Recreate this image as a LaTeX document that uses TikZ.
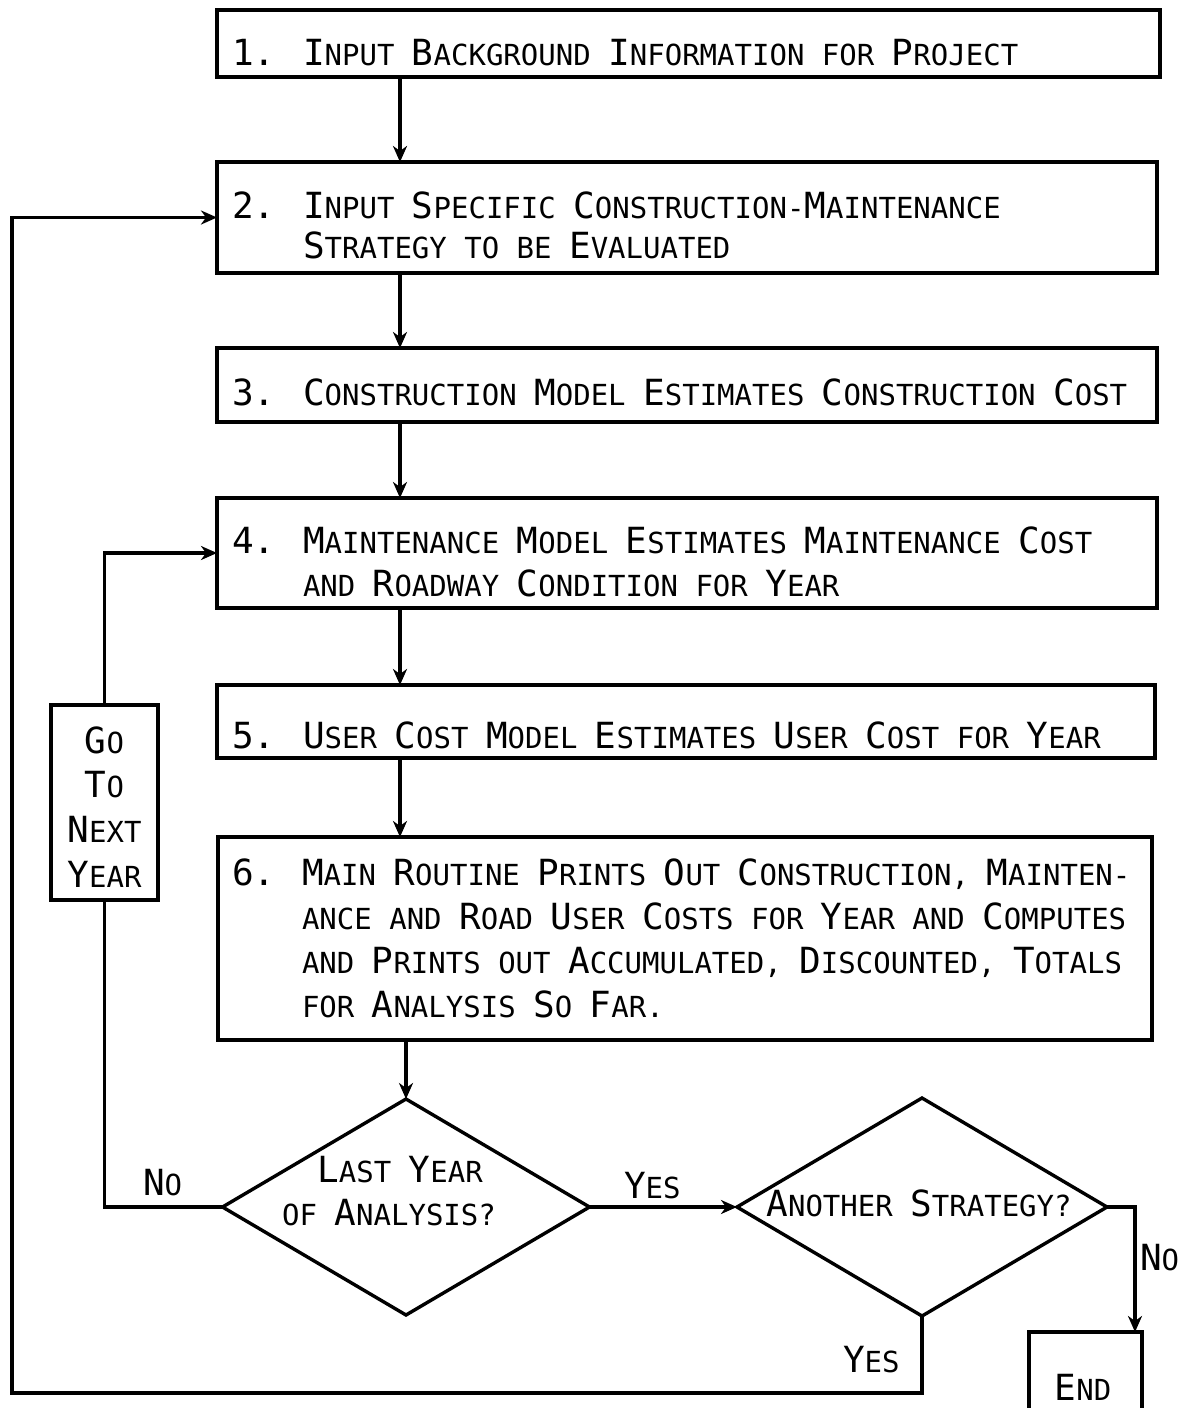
\documentclass[tikz,border=0pt]{standalone}
\usepackage{fontspec}
\newfontfamily\lettering{DejaVu Sans Mono}
\usetikzlibrary{arrows.meta,shapes.geometric}
\newcommand\Cap[1]{{\fontsize{36}{36}\selectfont #1}}
\begin{document}
\begin{tikzpicture}[x=1pt,y=-1pt,line width=3.4pt,
  font=\lettering\fontsize{29}{29}\selectfont,
  box/.style={draw,line width=3.4pt,inner sep=0pt,outer sep=0pt,anchor=north west,fill=white},
  txt/.style={anchor=base west,inner sep=0pt,outer sep=0pt},
  ctxt/.style={anchor=base,inner sep=0pt,outer sep=0pt},
  arr/.style={-{Stealth[length=16pt,width=14pt,inset=5pt]}},
  dia/.style={draw,diamond,line width=3.4pt,inner sep=0pt,outer sep=0pt}]
\useasboundingbox (0,0) rectangle (1181,1408);
\clip (0,0) rectangle (1181,1408);
% axis for vertical arrows
\coordinate (ax) at (400,0);
\coordinate (nx) at (1135,0);
% boxes
\node[box,minimum width=943pt,minimum height=67pt] (b1) at (217,10) {};
\node[box,minimum width=940pt,minimum height=111pt] (b2) at (217,162) {};
\node[box,minimum width=940pt,minimum height=74pt] (b3) at (217,348) {};
\node[box,minimum width=940pt,minimum height=110pt] (b4) at (217,498) {};
\node[box,minimum width=938pt,minimum height=73pt] (b5) at (217,685) {};
\node[box,minimum width=934pt,minimum height=203pt] (b6) at (218,837) {};
\node[box,minimum width=113pt,minimum height=110pt] (endbox) at (1029,1332) {};
% diamonds
\node[dia,minimum width=367pt,minimum height=216pt] (d1) at (406,1207) {};
\node[dia,minimum width=370pt,minimum height=218pt] (d2) at (922,1207) {};
% box texts
\node[txt] (n1) at (232,65) {\Cap{1.}};
\node[txt] (t1) at (303,65) {\Cap{I}NPUT \Cap{B}ACKGROUND \Cap{I}NFORMATION FOR \Cap{P}ROJECT};
\node[txt] (n2) at (232,218) {\Cap{2.}};
\node[txt] (t2a) at (303,218) {\Cap{I}NPUT \Cap{S}PECIFIC \Cap{C}ONSTRUCTION-\Cap{M}AINTENANCE};
\node[txt] (t2b) at (303,258) {\Cap{S}TRATEGY TO BE \Cap{E}VALUATED};
\node[txt] (n3) at (232,405) {\Cap{3.}};
\node[txt] (t3) at (303,405) {\Cap{C}ONSTRUCTION \Cap{M}ODEL \Cap{E}STIMATES \Cap{C}ONSTRUCTION \Cap{C}OST};
\node[txt] (n4) at (232,553) {\Cap{4.}};
\node[txt] (t4a) at (303,553) {\Cap{M}AINTENANCE \Cap{M}ODEL \Cap{E}STIMATES \Cap{M}AINTENANCE \Cap{C}OST};
\node[txt] (t4b) at (303,596) {AND \Cap{R}OADWAY \Cap{C}ONDITION FOR \Cap{Y}EAR};
\node[txt] (n5) at (232,748) {\Cap{5.}};
\node[txt] (t5) at (303,748) {\Cap{U}SER \Cap{C}OST \Cap{M}ODEL \Cap{E}STIMATES \Cap{U}SER \Cap{C}OST FOR \Cap{Y}EAR};
\node[txt] (n6) at (232,885) {\Cap{6.}};
\node[txt] (t6a) at (302,885) {\Cap{M}AIN \Cap{R}OUTINE \Cap{P}RINTS \Cap{O}UT \Cap{C}ONSTRUCTION, \Cap{M}AINTEN-};
\node[txt] (t6b) at (302,929) {ANCE AND \Cap{R}OAD \Cap{U}SER \Cap{C}OSTS FOR \Cap{Y}EAR AND \Cap{C}OMPUTES};
\node[txt] (t6c) at (302,973) {AND \Cap{P}RINTS OUT \Cap{A}CCUMULATED, \Cap{D}ISCOUNTED, \Cap{T}OTALS};
\node[txt] (t6d) at (302,1017) {FOR \Cap{A}NALYSIS \Cap{S}O \Cap{F}AR.};
% diamond texts
\node[ctxt] (d1a) at (400,1182) {\Cap{L}AST \Cap{Y}EAR};
\node[ctxt] (d1b) at (389,1225) {OF \Cap{A}NALYSIS?};
\node[ctxt] (d2a) at (919,1216) {\Cap{A}NOTHER \Cap{S}TRATEGY?};
% vertical arrows
\draw[arr] (b1.south -| ax) -- (b2.north -| ax);
\draw[arr] (b2.south -| ax) -- (b3.north -| ax);
\draw[arr] (b3.south -| ax) -- (b4.north -| ax);
\draw[arr] (b4.south -| ax) -- (b5.north -| ax);
\draw[arr] (b5.south -| ax) -- (b6.north -| ax);
\draw[arr] (b6.south -| d1.north) -- (d1.north);
% yes to another strategy
\draw[arr] (d1.east) -- (d2.west);
\node[txt] (lyes1) at (624,1198) {\Cap{Y}ES};
% no -> end
\draw[arr] (d2.east) -- (d2.east -| nx) -- (endbox.north -| nx);
\node[txt] (lno2) at (1140,1270) {\Cap{N}O};
\node[ctxt] (lend) at (1083,1400) {\Cap{E}ND};
% yes -> back to step 2
\coordinate (ybl) at (12,1393);
\draw[arr] (d2.south) |- (ybl) |- (b2.west);
\node[txt] (lyes2) at (843,1372) {\Cap{Y}ES};
% no -> next year -> step 4
\node[box,minimum width=107pt,minimum height=195pt] (go) at (51,705) {};
\draw (d1.west) -| (go.south);
\draw[arr] (go.north) |- (b4.west);
\node[txt] (lno1) at (143,1195) {\Cap{N}O};
\node[ctxt] (g1) at (go.center |- 0,753) {\Cap{G}O};
\node[ctxt] (g2) at (go.center |- 0,797) {\Cap{T}O};
\node[ctxt] (g3) at (go.center |- 0,842) {\Cap{N}EXT};
\node[ctxt] (g4) at (go.center |- 0,887) {\Cap{Y}EAR};
\end{tikzpicture}
\end{document}
